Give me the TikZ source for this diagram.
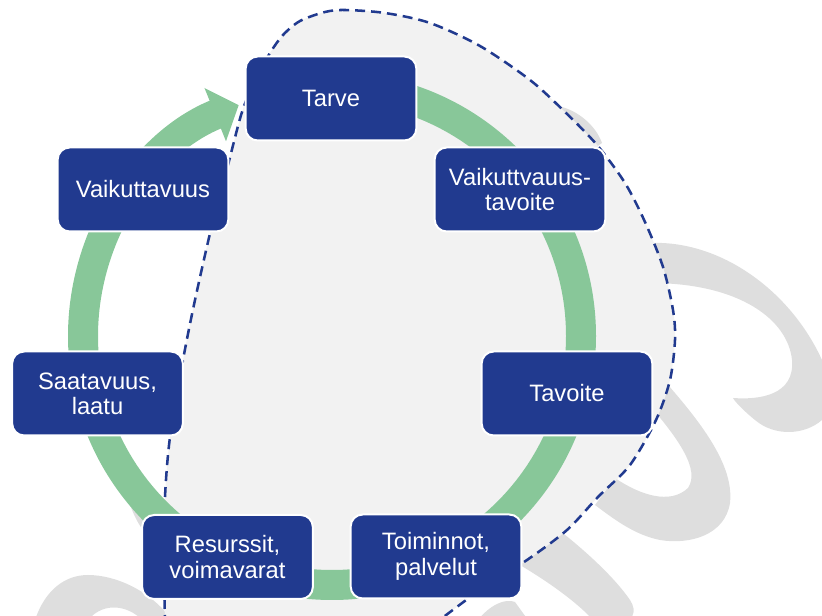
\documentclass[tikz,border=0pt]{standalone}
\usepackage{fontspec}
\setmainfont{Liberation Sans}
\usetikzlibrary{arrows.meta}

\definecolor{tummansininen}{HTML}{213A8F}
\definecolor{vihrea}{HTML}{88C799}
\definecolor{harmaa}{HTML}{DEDEDE}
\definecolor{vaalea}{HTML}{F2F2F2}

\tikzset{
  laatikko/.style={rectangle, rounded corners=9pt, fill=tummansininen, draw=white,
    line width=1.5pt, minimum width=128pt, minimum height=63pt, inner sep=2pt,
    text=white, align=center, font=\fontsize{17.8}{19}\selectfont},
  kehys/.style={draw=tummansininen, line width=1.9pt, dash pattern=on 7.5pt off 4.5pt},
  kierto/.style={draw=vihrea, line width=22.5pt, -{Triangle[width=42pt,length=19pt]}},
}

\begin{document}
\begin{tikzpicture}[x=0.75pt, y=-0.75pt]
  \useasboundingbox (0,0) rectangle (822,616);
  \begin{scope}
    \clip (0,0) rectangle (822,616);
    % harmaat kiemurat taustalla
    \fill[harmaa] (650,243) .. controls (720,240) and (790,290) .. (822,360) -- (822,420)
      .. controls (805,435) and (775,437) .. (755,420) .. controls (745,412) and (735,402) .. (733,398)
      .. controls (760,400) and (795,395) .. (792,360) .. controls (788,320) and (740,283) .. (650,283) -- cycle;
    \fill[harmaa] (655,370) .. controls (690,410) and (735,460) .. (730,503)
      .. controls (725,535) and (690,545) .. (660,540) .. controls (635,535) and (615,520) .. (595,505)
      -- (615,478) .. controls (640,495) and (670,505) .. (688,488)
      .. controls (700,470) and (680,440) .. (645,400) -- cycle;
    \fill[harmaa] (555,527) .. controls (585,550) and (615,578) .. (630,600)
      .. controls (638,612) and (632,622) .. (620,622) -- (595,622)
      .. controls (575,600) and (545,580) .. (520,565) -- cycle;
    \fill[harmaa] (478,620) .. controls (490,605) and (505,598) .. (515,602) -- (528,620) -- cycle;
    \fill[harmaa] (35,620) .. controls (45,590) and (65,575) .. (88,575)
      .. controls (115,575) and (150,590) .. (172,620) -- (142,620)
      .. controls (130,607) and (105,600) .. (88,620) -- cycle;
    \fill[harmaa] (558,106) .. controls (578,110) and (596,126) .. (602,143) -- (592,150)
      .. controls (585,135) and (572,120) .. (555,112) -- cycle;
    \fill[harmaa] (128,498) .. controls (135,508) and (142,515) .. (148,522) -- (143,530)
      .. controls (137,522) and (132,512) .. (128,498) -- cycle;
    % katkoviivalla rajattu alue
    \path[fill=vaalea, kehys] plot[smooth] coordinates {
      (165,625) (164,560) (165,497) (170,437) (183,360) (195,300) (212,225) (228,165)
      (242,112) (256,78) (270,53) (283,35) (300,21) (325,12) (345,10) (385,13) (430,23)
      (480,46) (530,80) (565,112) (597,145) (625,183) (645,222) (663,267) (673,310)
      (675,340) (670,380) (656,420) (630,465) (598,497) (567,530) (527,560) (480,590)
      (433,625)} -- cycle;
  \end{scope}
  % vihrea kehanuoli
  \draw[kierto] (332,87) arc[start angle=-90, end angle=248, radius=249];
  % vaiheet
  \node[laatikko] (tarve) at (331,98.5) {Tarve};
  \node[laatikko] (vtavoite) at (520,189.5) {Vaikuttvauus-\\tavoite};
  \node[laatikko] (tavoite) at (567,393.5) {Tavoite};
  \node[laatikko] (toiminnot) at (436,556.5) {Toiminnot,\\palvelut};
  \node[laatikko] (resurssit) at (227.5,557) {Resurssit,\\voimavarat};
  \node[laatikko] (saatavuus) at (97.5,393.5) {Saatavuus,\\laatu};
  \node[laatikko] (vaikuttavuus) at (143,189.5) {Vaikuttavuus};
\end{tikzpicture}
\end{document}
